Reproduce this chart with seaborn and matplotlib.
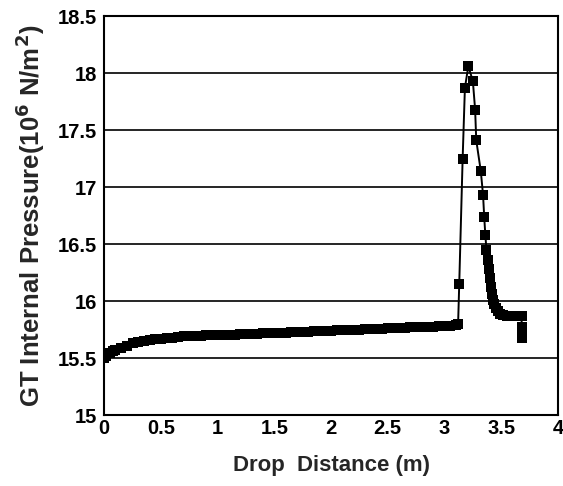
import matplotlib
matplotlib.use("Agg")
import matplotlib.pyplot as plt
import seaborn as sns
import pandas as pd

# slow rise part (drop distance in m, pressure in 1e6 N/m2)
flat_x = [0.00, 0.02, 0.05, 0.08, 0.10, 0.15, 0.20, 0.25, 0.30, 0.35, 0.40, 0.45,
          0.50, 0.55, 0.60, 0.65, 0.70, 0.75, 0.80, 0.85, 0.90, 0.95, 1.00,
          1.05, 1.10, 1.15, 1.20, 1.25, 1.30, 1.35, 1.40, 1.45, 1.50,
          1.55, 1.60, 1.65, 1.70, 1.75, 1.80, 1.85, 1.90, 1.95, 2.00,
          2.05, 2.10, 2.15, 2.20, 2.25, 2.30, 2.35, 2.40, 2.45, 2.50,
          2.55, 2.60, 2.65, 2.70, 2.75, 2.80, 2.85, 2.90, 2.95, 3.00,
          3.05, 3.10]
flat_p = [15.50, 15.52, 15.54, 15.56, 15.57, 15.59, 15.61, 15.63, 15.64, 15.65, 15.66, 15.665,
          15.67, 15.675, 15.68, 15.685, 15.69, 15.692, 15.694, 15.696, 15.698, 15.70, 15.70,
          15.702, 15.704, 15.706, 15.708, 15.71, 15.712, 15.714, 15.716, 15.718, 15.72,
          15.722, 15.724, 15.726, 15.728, 15.73, 15.732, 15.734, 15.736, 15.738, 15.74,
          15.742, 15.744, 15.746, 15.748, 15.75, 15.752, 15.754, 15.756, 15.758, 15.76,
          15.762, 15.764, 15.766, 15.768, 15.77, 15.772, 15.774, 15.776, 15.778, 15.78,
          15.785, 15.79]

# pressure spike and settling
spike_x = [3.12, 3.13, 3.16, 3.18, 3.21, 3.25, 3.27, 3.28, 3.32, 3.34, 3.35, 3.36,
           3.37, 3.38, 3.39, 3.40, 3.41, 3.42, 3.43, 3.44, 3.45, 3.47, 3.49, 3.52,
           3.55, 3.58, 3.62, 3.66, 3.68, 3.68, 3.68, 3.68]
spike_p = [15.80, 16.15, 17.25, 17.87, 18.06, 17.93, 17.68, 17.41, 17.14, 16.93, 16.74, 16.58,
           16.45, 16.36, 16.28, 16.20, 16.12, 16.06, 16.01, 15.97, 15.94, 15.91, 15.89, 15.88,
           15.87, 15.87, 15.87, 15.87, 15.87, 15.77, 15.73, 15.68]

df = pd.DataFrame({"x": flat_x + spike_x, "p": flat_p + spike_p})

sns.set_style("white")
plt.rcParams["font.family"] = ["Liberation Sans", "DejaVu Sans"]
plt.rcParams["font.weight"] = "bold"

fig = plt.figure(figsize=(5.63, 4.86), dpi=100)
ax = fig.add_axes([0.185, 0.146, 0.806, 0.821])

sns.lineplot(data=df, x="x", y="p", ax=ax, color="black", linewidth=1.4,
             marker="s", markersize=6.5, markeredgewidth=0, estimator=None, sort=False)

ax.set_xlim(0, 4)
ax.set_ylim(15, 18.5)
ax.set_xticks([0, 0.5, 1, 1.5, 2, 2.5, 3, 3.5, 4])
ax.set_xticklabels(["0", "0.5", "1", "1.5", "2", "2.5", "3", "3.5", "4"])
ax.set_yticks([15, 15.5, 16, 16.5, 17, 17.5, 18, 18.5])
ax.set_yticklabels(["15", "15.5", "16", "16.5", "17", "17.5", "18", "18.5"])
ax.yaxis.grid(True, color="black", linewidth=1.2)
ax.xaxis.grid(False)
for s in ax.spines.values():
    s.set_color("black")
    s.set_linewidth(1.5)
ax.tick_params(axis="y", direction="out", length=4, width=1.2, labelsize=14.5, pad=1, colors="black")
ax.tick_params(axis="x", direction="in", length=4, width=1.2, labelsize=14.5, pad=3, colors="black")

ax.set_xlabel("Drop  Distance (m)", fontsize=16, fontweight="bold", labelpad=12)
ax.set_ylabel("GT Internal Pressure(10$^{\\mathbf{6}}$ N/m$^{\\mathbf{2}}$)", fontsize=18.5,
              fontweight="bold", labelpad=8)

fig.savefig("out.png", dpi=100)
